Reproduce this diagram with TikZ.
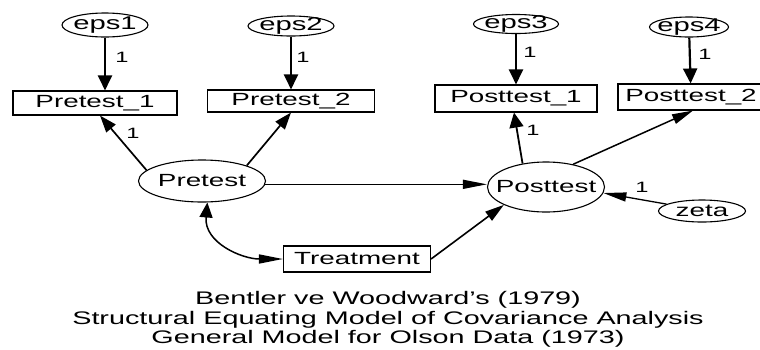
\documentclass[tikz,border=0pt]{standalone}
\usepackage{fontspec}
% wide sans face used throughout the model
\setmainfont{Liberation Sans}[FakeStretch=1.58]
\usetikzlibrary{arrows.meta,calc,shapes.geometric}
\begin{document}
\begin{tikzpicture}[x=1pt,y=-1pt,
  txt/.style={inner sep=0pt, font=\fontsize{17.6}{20}\selectfont},
  epstxt/.style={txt, font=\fontsize{18.5}{20}\selectfont},
  lat/.style={draw, ellipse, line width=1.1pt, inner sep=0pt},
  obs/.style={draw, rectangle, line width=1.1pt, inner sep=0pt, font=\fontsize{17.6}{20}\selectfont},
  tip/.style 2 args={-{Triangle[length=#1,width=#2]}},
  coef/.style={inner sep=0pt, font=\fontsize{15}{16}\selectfont}
]
\useasboundingbox (0,0) rectangle (760,349);

% error terms
\node[lat, minimum width=86pt, minimum height=24pt, label={[epstxt]center:eps1}] (eps1) at (105,25) {};
\node[lat, minimum width=86pt, minimum height=20pt, label={[epstxt]center:eps2}] (eps2) at (291,26) {};
\node[lat, minimum width=85pt, minimum height=19pt, label={[epstxt]center:eps3}] (eps3) at (516,24) {};
\node[lat, minimum width=79pt, minimum height=20pt, label={[epstxt]center:eps4}] (eps4) at (689,27) {};
\node[lat, minimum width=87pt, minimum height=22pt, label={[txt]center:zeta}] (zeta) at (702,211) {};

% latent variables
\node[lat, minimum width=127pt, minimum height=42pt, label={[txt]center:Pretest}] (Pretest) at (202,181) {};
\node[lat, minimum width=117pt, minimum height=50pt, label={[txt]center:Posttest}] (Posttest) at (546,187) {};

% observed variables
\node[obs, minimum width=164pt, minimum height=24pt] (Pretest_1) at (95,103) {Pretest\_1};
\node[obs, minimum width=167pt, minimum height=22pt] (Pretest_2) at (291,101) {Pretest\_2};
\node[obs, minimum width=162pt, minimum height=27pt] (Posttest_1) at (516,98.5) {Posttest\_1};
\node[obs, minimum width=146pt, minimum height=26pt] (Posttest_2) at (691,97) {Posttest\_2};
\node[obs, minimum width=147pt, minimum height=26pt] (Treatment) at (357,259) {Treatment};

% error paths
\draw[tip={15pt}{14pt}, line width=2.2pt] (eps1.south) -- (eps1.south |- Pretest_1.north);
\draw[tip={15pt}{14pt}, line width=2.2pt] (eps2.south) -- (eps2.south |- Pretest_2.north);
\draw[tip={15pt}{14pt}, line width=2.2pt] (eps3.south) -- (eps3.south |- Posttest_1.north);
\draw[tip={15pt}{14pt}, line width=2.2pt] (eps4) -- (Posttest_2);
\draw[tip={23pt}{9pt}, line width=1.3pt] (zeta.169) -- (Posttest.-6);

% measurement paths
\draw[tip={17pt}{12pt}, line width=1.7pt] (Pretest.169) -- ($(Pretest_1.south)+(5,0)$);
\draw[tip={17pt}{12pt}, line width=1.7pt] (Pretest.19) -- (Pretest_2.south);
\draw[tip={15pt}{14pt}, line width=1.8pt] (Posttest.135) -- ($(Posttest_1.south)+(-2,0)$);
\draw[tip={21pt}{10pt}, line width=1.5pt] (Posttest.40) -- ($(Posttest_2.south)+(2,0)$);

% structural paths
\draw[tip={24pt}{9pt}, line width=1.3pt] (Pretest.-3) -- (Posttest.west |- Pretest.-3);
\draw[tip={19pt}{11pt}, line width=1.6pt] (Treatment.east) -- (Posttest.203);
\draw[{Triangle[length=15pt,width=13pt]}-{Triangle[length=24pt,width=9pt]}, line width=1.5pt]
  (Pretest.-76) to[out=-95, in=180, looseness=1.1] (Treatment.west);

% fixed coefficients
\node[coef] (c1) at (122,57) {1};
\node[coef] (c2) at (303,57) {1};
\node[coef] (c3) at (530,52) {1};
\node[coef] (c4) at (705,54) {1};
\node[coef] (c5) at (133,133) {1};
\node[coef] (c6) at (533,130) {1};
\node[coef] (c7) at (642,187) {1};

% caption (base anchor sits on the last line)
\node[anchor=base, align=center, inner sep=0pt,
      font=\fontsize{18.2}{19.3}\selectfont] (caption) at (388,343.5)
  {Bentler ve Woodward's (1979)\\
   Structural Equating Model of Covariance Analysis\\
   General Model for Olson Data (1973)};
\end{tikzpicture}
\end{document}
